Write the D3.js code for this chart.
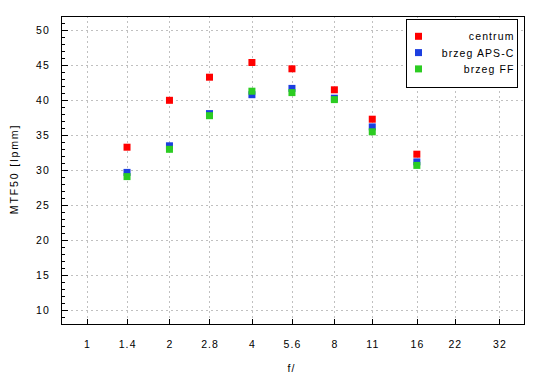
<!DOCTYPE html>
<html><head><meta charset="utf-8">
<script src="https://cdn.jsdelivr.net/npm/d3@7"></script>
<style>
body{margin:0;background:#fff;}
text{font-family:"Liberation Sans",Arial,sans-serif;font-size:10.5px;fill:#000;letter-spacing:1.1px;}
</style></head>
<body><svg id="c" width="550" height="380"></svg>
<script>
const apertures = [1.4, 2, 2.8, 4, 5.6, 8, 11, 16];
const centrum  = [33.3, 40.0, 43.3, 45.4, 44.5, 41.5, 37.3, 32.3];
const apsc     = [29.7, 33.5, 38.1, 40.8, 41.7, 40.3, 36.2, 31.2];
const ff       = [29.1, 33.0, 37.8, 41.3, 41.1, 40.1, 35.5, 30.7];
const xTicks = [1, 1.4, 2, 2.8, 4, 5.6, 8, 11, 16, 22, 32];
const xTickLabels = ["1","1.4","2","2.8","4","5.6","8","11","16","22","32"];
const yTicks = [10, 15, 20, 25, 30, 35, 40, 45, 50];
const seriesNames = ["centrum", "brzeg APS-C", "brzeg FF"];
const seriesColors = ["#ff0000", "#1c3fe0", "#2ccc22"];

const L = 61, R = 525, T = 16, B = 325;
const svg = d3.select("#c");

const x0 = d3.scaleLog().domain([1, 32]).range([87, 499.3]);
const x = d3.scaleLog().domain([x0.invert(L), x0.invert(R)]).range([L, R]);
const y0 = d3.scaleLinear().domain([10, 50]).range([310.3, 30.3]);
const y = d3.scaleLinear().domain([y0.invert(B), y0.invert(T)]).range([B, T]);

// grid
const grid = svg.append("g").attr("stroke", "#c0c0c0").attr("stroke-dasharray", "2,3").attr("shape-rendering", "crispEdges");
xTicks.forEach(v => grid.append("line").attr("x1", Math.round(x(v)) + 0.5).attr("x2", Math.round(x(v)) + 0.5).attr("y1", T).attr("y2", B));
yTicks.forEach(v => grid.append("line").attr("y1", Math.round(y(v)) + 0.5).attr("y2", Math.round(y(v)) + 0.5).attr("x1", L).attr("x2", R));

// ticks
const tk = svg.append("g").attr("stroke", "#000").attr("shape-rendering", "crispEdges");
xTicks.forEach(v => tk.append("line").attr("x1", Math.round(x(v)) + 0.5).attr("x2", Math.round(x(v)) + 0.5).attr("y1", B).attr("y2", B - 6));
d3.range(8, 53).forEach(v => {
  if (y(v) < T || y(v) > B) return;
  const major = v % 5 === 0;
  tk.append("line").attr("y1", Math.round(y(v)) + 0.5).attr("y2", Math.round(y(v)) + 0.5).attr("x1", L).attr("x2", L + (major ? 7 : 4));
});

// frame
svg.append("rect").attr("x", L + 0.5).attr("y", T + 0.5).attr("width", R - L - 1).attr("height", B - T - 1)
  .attr("fill", "none").attr("stroke", "#000").attr("stroke-width", 1.5).attr("shape-rendering", "crispEdges");

// tick labels
xTicks.forEach((v, i) => svg.append("text").attr("x", x(v) + 0.6).attr("y", 348).attr("text-anchor", "middle").text(xTickLabels[i]));
yTicks.forEach(v => svg.append("text").attr("x", 50).attr("y", y(v) + 4).attr("text-anchor", "end").text(v));

// axis titles
svg.append("text").attr("x", 291.5).attr("y", 372).attr("text-anchor", "middle").text("f/");
svg.append("text").attr("transform", "translate(17.5,169) rotate(-90)").attr("text-anchor", "middle")
  .style("letter-spacing", "1.9px").text("MTF50 [lpmm]");

// points
const data = [centrum, apsc, ff];
data.forEach((vals, si) => {
  svg.append("g").selectAll("rect").data(apertures).join("rect")
    .attr("x", (d) => x(d) - 3.5).attr("y", (d, i) => y(vals[i]) - 3.5)
    .attr("width", 7).attr("height", 7).attr("fill", seriesColors[si]);
});

// legend
const lg = svg.append("g");
lg.append("rect").attr("x", 406.5).attr("y", 19.5).attr("width", 111).attr("height", 68)
  .attr("fill", "#fff").attr("stroke", "#000").attr("shape-rendering", "crispEdges");
seriesNames.forEach((n, i) => {
  const cy = 36.3 + i * 16.3;
  lg.append("rect").attr("x", 415).attr("y", cy - 3.5).attr("width", 7).attr("height", 7).attr("fill", seriesColors[i]);
  lg.append("text").attr("x", 514.5).attr("y", cy + 4).attr("text-anchor", "end").text(n);
});
</script></body></html>
